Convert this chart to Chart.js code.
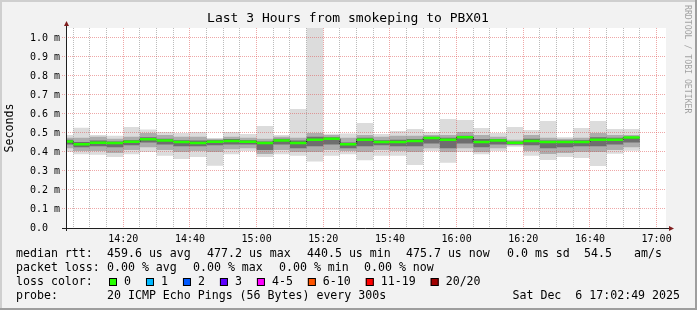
<!DOCTYPE html>
<html>
<head>
<meta charset="utf-8">
<title>Last 3 Hours from smokeping to PBX01</title>
<script src="https://cdn.jsdelivr.net/npm/chart.js@4.4.1/dist/chart.umd.min.js"></script>
<style>
  html, body { margin: 0; padding: 0; background: #f2f2f2; }
  #wrap { width: 697px; height: 310px; }
</style>
</head>
<body>
<div id="wrap"><canvas id="smokeChart" width="697" height="310"></canvas></div>
<script>
// graph window
const graphStart = '14:02:49';
const graphEnd = '17:02:49';

// start of each 5 min step (first one cut by the window), last step ends at endTime
const startTimes = ['14:02','14:05','14:10','14:15','14:20','14:25','14:30','14:35','14:40','14:45',
  '14:50','14:55','15:00','15:05','15:10','15:15','15:20','15:25','15:30','15:35',
  '15:40','15:45','15:50','15:55','16:00','16:05','16:10','16:15','16:20','16:25',
  '16:30','16:35','16:40','16:45','16:50'];
const endTime = '16:55';

// rtt in ms
const medianRtt = [0.455,0.441,0.449,0.447,0.454,0.467,0.460,0.453,0.447,0.454,
  0.458,0.454,0.447,0.460,0.447,0.465,0.470,0.4405,0.465,0.453,
  0.453,0.458,0.474,0.465,0.477,0.453,0.460,0.449,0.458,0.453,
  0.453,0.453,0.465,0.465,0.4757];
const maxRtt = [0.490,0.528,0.490,0.486,0.532,0.518,0.505,0.500,0.505,0.472,
  0.505,0.495,0.537,0.490,0.626,1.060,0.496,0.498,0.553,0.495,
  0.510,0.521,0.505,0.574,0.568,0.526,0.500,0.532,0.516,0.563,
  0.477,0.526,0.563,0.521,0.521];
const minRtt = [0.400,0.388,0.385,0.374,0.388,0.400,0.380,0.363,0.374,0.328,
  0.388,0.405,0.374,0.388,0.380,0.350,0.380,0.388,0.356,0.380,
  0.380,0.332,0.405,0.344,0.400,0.388,0.405,0.428,0.380,0.358,
  0.374,0.368,0.326,0.391,0.407];
const lo20 = [0.420,0.405,0.405,0.395,0.410,0.425,0.410,0.400,0.405,0.400,
  0.415,0.420,0.390,0.410,0.400,0.400,0.410,0.405,0.400,0.410,
  0.405,0.400,0.420,0.400,0.420,0.400,0.420,0.435,0.405,0.390,
  0.395,0.400,0.400,0.410,0.425];
const hi80 = [0.475,0.475,0.480,0.470,0.480,0.500,0.490,0.480,0.480,0.470,
  0.480,0.475,0.470,0.480,0.475,0.500,0.490,0.475,0.490,0.480,
  0.485,0.485,0.490,0.490,0.505,0.490,0.480,0.465,0.490,0.475,
  0.470,0.475,0.500,0.490,0.490];
const lo40 = [0.440,0.425,0.430,0.425,0.435,0.450,0.440,0.430,0.430,0.435,
  0.440,0.440,0.410,0.440,0.420,0.430,0.440,0.420,0.430,0.435,
  0.430,0.430,0.445,0.420,0.445,0.425,0.440,0.440,0.435,0.420,
  0.425,0.430,0.430,0.440,0.450];
const hi60 = [0.465,0.452,0.460,0.455,0.462,0.478,0.470,0.462,0.460,0.462,
  0.468,0.462,0.455,0.470,0.460,0.480,0.478,0.450,0.475,0.462,
  0.465,0.468,0.480,0.475,0.485,0.468,0.468,0.455,0.470,0.460,
  0.460,0.462,0.478,0.475,0.480];

// axes
const xTickLabels = ['14:20','14:40','15:00','15:20','15:40','16:00','16:20','16:40','17:00'];
const yTickValues = [0,0.1,0.2,0.3,0.4,0.5,0.6,0.7,0.8,0.9,1.0];
const yTickLabels = ['0.0  ','0.1 m','0.2 m','0.3 m','0.4 m','0.5 m','0.6 m','0.7 m','0.8 m','0.9 m','1.0 m'];
const yMax = 1.0526;

// legend texts
const rttStats = ['459.6 us avg','477.2 us max','440.5 us min','475.7 us now','0.0 ms sd','54.5','am/s'];
const lossStats = ['0.00 % avg','0.00 % max','0.00 % min','0.00 % now'];
const lossLabels = ['0','1','2','3','4-5','6-10','11-19','20/20'];
const lossColors = ['#26ff00','#00b8ff','#0059ff','#5e00ff','#ff00ff','#ff5500','#ff0000','#a00000'];
const probeText = '20 ICMP Echo Pings (56 Bytes) every 300s';
const dateText = 'Sat Dec  6 17:02:49 2025';

const MONO = "'DejaVu Sans Mono', 'Liberation Mono', monospace";
const GRID = 'rgba(143,143,143,0.6)';
const MGRID = 'rgba(222,79,79,0.5)';
const ARROW = 'rgb(128,31,31)';
const AXIS = 'rgb(31,31,31)';

function toMin(s) {
    const p = s.split(':').map(Number);
    return p[0] * 60 + p[1] + (p[2] || 0) / 60;
}
function fmtTime(v) {
    const h = Math.floor(v / 60);
    const m = Math.round(v - h * 60);
    return h + ':' + String(m).padStart(2, '0');
}
// stepped series: each value holds until the next start, repeated at the end
function series(values) {
    const pts = startTimes.map((t, i) => ({ x: toMin(t), y: values[i] }));
    pts.push({ x: toMin(endTime), y: values[values.length - 1] });
    return pts;
}
// flat pieces only, no vertical joins (for the coloured median)
function flatPieces(values) {
    const ends = startTimes.slice(1).concat([endTime]);
    const pts = [];
    startTimes.forEach((t, i) => {
        pts.push({ x: toMin(t), y: values[i] });
        pts.push({ x: toMin(ends[i]), y: values[i] });
        pts.push({ x: toMin(ends[i]), y: null });
    });
    return pts;
}

function smoke(label, values, fill, color, order) {
    return {
        label: label,
        data: series(values),
        stepped: true,
        pointRadius: 0,
        borderColor: 'rgba(0,0,0,0)',
        borderWidth: 1,
        backgroundColor: color,
        fill: fill,
        order: order
    };
}

const rrdPaint = {
    id: 'rrdPaint',
    beforeDraw(chart) {
        const ctx = chart.ctx;
        const a = chart.chartArea;
        ctx.save();
        ctx.fillStyle = '#f2f2f2';
        ctx.fillRect(0, 0, 697, 310);
        // 3d frame
        ctx.fillStyle = '#cfcfcf';
        ctx.fillRect(0, 0, 697, 2);
        ctx.fillRect(0, 0, 2, 310);
        ctx.fillStyle = '#9e9e9e';
        ctx.fillRect(0, 308, 697, 2);
        ctx.fillRect(695, 0, 2, 310);
        ctx.fillStyle = '#ffffff';
        ctx.fillRect(a.left, a.top, a.right - a.left, a.bottom - a.top);
        ctx.restore();
    },
    afterDraw(chart) {
        const ctx = chart.ctx;
        const a = chart.chartArea;
        ctx.save();

        // axes with arrows
        ctx.strokeStyle = AXIS;
        ctx.lineWidth = 1;
        ctx.beginPath();
        ctx.moveTo(a.left - 4, a.bottom + 0.5);
        ctx.lineTo(a.right + 3, a.bottom + 0.5);
        ctx.moveTo(a.left + 0.5, a.bottom + 3);
        ctx.lineTo(a.left + 0.5, a.top - 2);
        ctx.stroke();
        ctx.fillStyle = ARROW;
        ctx.beginPath();
        ctx.moveTo(a.left - 2, a.top - 2);
        ctx.lineTo(a.left + 3, a.top - 2);
        ctx.lineTo(a.left + 0.5, a.top - 7);
        ctx.closePath();
        ctx.fill();
        ctx.beginPath();
        ctx.moveTo(a.right + 3, a.bottom - 2);
        ctx.lineTo(a.right + 3, a.bottom + 3);
        ctx.lineTo(a.right + 8, a.bottom + 0.5);
        ctx.closePath();
        ctx.fill();

        // title
        ctx.fillStyle = '#000';
        ctx.textBaseline = 'middle';
        ctx.textAlign = 'center';
        ctx.font = '13px ' + MONO;
        ctx.fillText('Last 3 Hours from smokeping to PBX01', 348, 19);

        // watermark
        ctx.save();
        ctx.translate(687, 5);
        ctx.rotate(Math.PI / 2);
        ctx.textAlign = 'left';
        ctx.font = '8.2px ' + MONO;
        ctx.fillStyle = 'rgba(0,0,0,0.35)';
        ctx.fillText('RRDTOOL / TOBI OETIKER', 0, 0);
        ctx.restore();

        // legend
        ctx.textAlign = 'left';
        ctx.font = '11.6px ' + MONO;
        ctx.fillStyle = '#000';
        const rows = [254, 268, 282, 296];
        ctx.fillText('median rtt:', 16, rows[0]);
        const rttX = [107, 207, 307, 406, 507, 584, 634];
        rttStats.forEach((t, i) => ctx.fillText(t, rttX[i], rows[0]));

        ctx.fillText('packet loss:', 16, rows[1]);
        const lossX = [107, 193, 279, 364];
        lossStats.forEach((t, i) => ctx.fillText(t, lossX[i], rows[1]));

        ctx.fillText('loss color:', 16, rows[2]);
        let x = 109;
        lossLabels.forEach((t, i) => {
            ctx.fillStyle = lossColors[i];
            ctx.fillRect(x, rows[2] - 4, 8, 8);
            ctx.strokeStyle = '#000';
            ctx.strokeRect(x + 0.5, rows[2] - 3.5, 7, 7);
            ctx.fillStyle = '#000';
            ctx.fillText(t, x + 15, rows[2]);
            x += 15 + ctx.measureText(t).width + 15;
        });

        ctx.fillText('probe:', 16, rows[3]);
        ctx.fillText(probeText, 107, rows[3]);
        ctx.textAlign = 'right';
        ctx.fillText(dateText, 680, rows[3]);

        ctx.restore();
    }
};

const ctx = document.getElementById('smokeChart').getContext('2d');
const smokeChart = new Chart(ctx, {
    type: 'line',
    data: {
        datasets: [
            smoke('max', maxRtt, '+1', '#dcdcdc', 7),
            smoke('min', minRtt, false, 'rgba(0,0,0,0)', 6),
            smoke('p80', hi80, '+1', '#adadad', 5),
            smoke('p20', lo20, false, 'rgba(0,0,0,0)', 4),
            smoke('p60', hi60, '+1', '#6e6e6e', 3),
            smoke('p40', lo40, false, 'rgba(0,0,0,0)', 2),
            {
                label: 'median joins',
                data: series(medianRtt),
                stepped: true,
                pointRadius: 0,
                borderColor: '#111111',
                borderWidth: 1,
                fill: false,
                order: 1
            },
            {
                label: 'median rtt',
                data: flatPieces(medianRtt),
                spanGaps: false,
                pointRadius: 0,
                borderColor: '#26ff00',
                borderWidth: 2.5,
                fill: false,
                order: 0
            }
        ]
    },
    options: {
        responsive: false,
        animation: false,
        devicePixelRatio: 1,
        layout: { padding: { top: 28, right: 31, left: 0, bottom: 0 } },
        plugins: {
            legend: { display: false },
            tooltip: { enabled: false },
            title: { display: false }
        },
        scales: {
            x: {
                type: 'linear',
                min: toMin(graphStart),
                max: toMin(graphEnd),
                afterBuildTicks: (s) => {
                    const t = [];
                    for (let v = 845; v <= 1020; v += 5) t.push({ value: v });
                    s.ticks = t;
                },
                afterFit: (s) => { s.height = 82; },
                grid: {
                    z: 1,
                    color: (c) => (c.tick && c.tick.value % 20 === 0 ? MGRID : GRID),
                    lineWidth: 1,
                    drawTicks: false
                },
                border: { display: false, dash: [1, 1] },
                ticks: {
                    autoSkip: false,
                    maxRotation: 0,
                    padding: 5,
                    color: '#000',
                    font: { family: MONO, size: 10 },
                    callback: (v) => {
                        const lbl = fmtTime(v);
                        return xTickLabels.includes(lbl) ? lbl : '';
                    }
                }
            },
            y: {
                min: 0,
                max: yMax,
                afterBuildTicks: (s) => { s.ticks = yTickValues.map(v => ({ value: v })); },
                afterFit: (s) => { s.width = 66; },
                grid: {
                    z: 1,
                    color: MGRID,
                    tickColor: MGRID,
                    tickLength: 4,
                    tickBorderDash: [1, 1]
                },
                border: { display: false, dash: [1, 1] },
                ticks: {
                    padding: 2,
                    color: '#000',
                    font: { family: MONO, size: 10 },
                    callback: (v, i) => yTickLabels[i]
                },
                title: {
                    display: true,
                    text: 'Seconds',
                    color: '#000',
                    font: { family: MONO, size: 11.6 },
                    padding: { top: 3, bottom: 0 }
                }
            }
        }
    },
    plugins: [rrdPaint]
});
</script>
</body>
</html>
